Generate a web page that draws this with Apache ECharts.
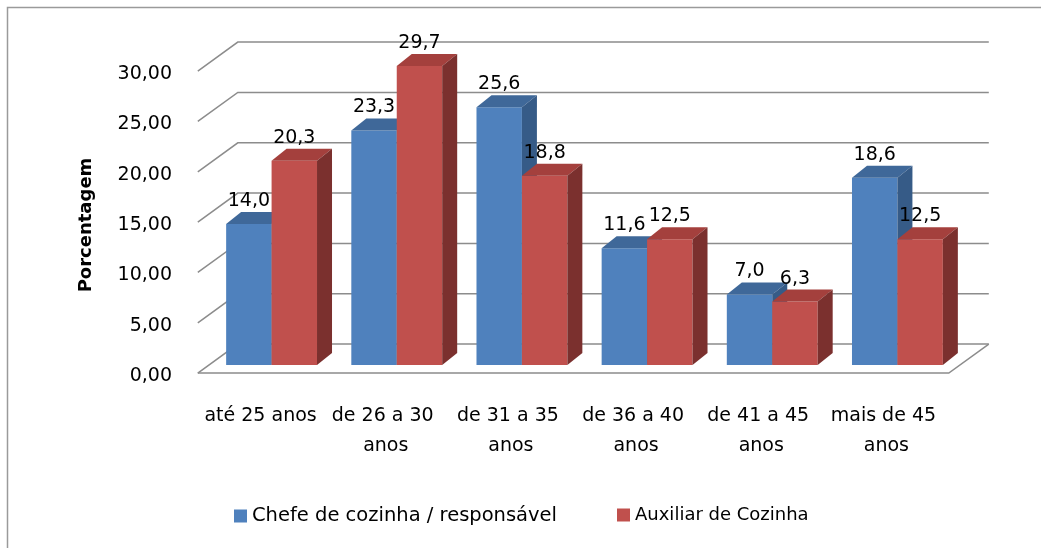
<!DOCTYPE html>
<html>
<head>
<meta charset="utf-8">
<script src="https://cdn.jsdelivr.net/npm/echarts@6/dist/echarts.min.js"></script>
<style>
  html, body { margin: 0; padding: 0; background: #fff; }
  #chart { width: 1041px; height: 548px; }
</style>
</head>
<body>
<div id="chart"></div>
<script>
const categories = [
  "até 25 anos",
  "de 26 a 30 anos",
  "de 31 a 35 anos",
  "de 36 a 40 anos",
  "de 41 a 45 anos",
  "mais de 45 anos"
];
const chefe = [14.0, 23.3, 25.6, 11.6, 7.0, 18.6];
const auxiliar = [20.3, 29.7, 18.8, 12.5, 6.3, 12.5];
const yTicks = [0, 5, 10, 15, 20, 25, 30];

const FONT = "DejaVu Sans";
// 3d look: floor depth vector and position of the bar plane inside it
const DEPTH = [40, -29];
const PLANE = 0.28;
const BAR_DEPTH = [15, -12];
const BAR_FRAC = 0.363;

const colors = {
  chefe: { front: "#4f81bd", top: "#3f6899", side: "#365b87" },
  auxiliar: { front: "#c0504d", top: "#a4403d", side: "#7b302e" }
};

function fmt(v, d) {
  return v.toFixed(d).replace(".", ",");
}

function renderWall(params, api) {
  const cs = params.coordSys;
  const v = api.value(1);
  const y = api.coord([0, v])[1];
  const back = [DEPTH[0] * (1 - PLANE), DEPTH[1] * (1 - PLANE)];
  const front = [-DEPTH[0] * PLANE, -DEPTH[1] * PLANE];
  const left = cs.x;
  const right = cs.x + cs.width;
  const lineStyle = { stroke: "#8c8c8c", lineWidth: 1.5, fill: null };
  const children = [
    {
      type: "polyline",
      shape: {
        points: [
          [left + front[0], y + front[1]],
          [left + back[0], y + back[1]],
          [right + back[0], y + back[1]]
        ]
      },
      style: lineStyle
    }
  ];
  if (v === 0) {
    children.push({
      type: "polyline",
      shape: {
        points: [
          [left + front[0], y + front[1]],
          [right + front[0], y + front[1]],
          [right + back[0], y + back[1]]
        ]
      },
      style: lineStyle
    });
  }
  return { type: "group", children: children };
}

function renderBar(side, c) {
  return function (params, api) {
    const cat = api.value(0);
    const val = api.value(1);
    const base = api.coord([cat, 0]);
    const top = api.coord([cat, val]);
    const bw = api.size([1, 0])[0] * BAR_FRAC;
    const x0 = side === 0 ? base[0] - bw : base[0];
    const x1 = x0 + bw;
    const yb = base[1];
    const yt = top[1];
    const dx = BAR_DEPTH[0];
    const dy = BAR_DEPTH[1];
    return {
      type: "group",
      children: [
        {
          type: "polygon",
          shape: { points: [[x0, yb], [x1, yb], [x1, yt], [x0, yt]] },
          style: { fill: c.front }
        },
        {
          type: "polygon",
          shape: { points: [[x0, yt], [x1, yt], [x1 + dx, yt + dy], [x0 + dx, yt + dy]] },
          style: { fill: c.top }
        },
        {
          type: "polygon",
          shape: { points: [[x1, yt], [x1 + dx, yt + dy], [x1 + dx, yb + dy], [x1, yb]] },
          style: { fill: c.side }
        },
        {
          type: "text",
          style: {
            text: fmt(val, 1),
            x: (x0 + x1) / 2,
            y: yt - 23,
            align: "center",
            verticalAlign: "middle",
            font: "19px '" + FONT + "'",
            fill: "#000"
          },
          z2: 10
        }
      ]
    };
  };
}

const chart = echarts.init(document.getElementById("chart"));

const option = {
  backgroundColor: "#fff",
  animation: false,
  textStyle: { fontFamily: FONT, color: "#000" },
  graphic: [
    {
      type: "rect",
      shape: { x: 7.5, y: 7.5, width: 1100, height: 600 },
      style: { fill: null, stroke: "#9a9a9a", lineWidth: 1.5 },
      silent: true
    }
  ],
  legend: [
    {
      left: 234,
      top: 506,
      padding: 0,
      itemWidth: 13,
      itemHeight: 13,
      icon: "rect",
      data: ["Chefe de cozinha / responsável"],
      textStyle: { fontSize: 19.5, color: "#000", fontFamily: FONT }
    },
    {
      left: 617,
      top: 506,
      padding: 0,
      itemWidth: 13,
      itemHeight: 13,
      icon: "rect",
      data: ["Auxiliar de Cozinha"],
      textStyle: { fontSize: 18, color: "#000", fontFamily: FONT }
    }
  ],
  grid: { left: 209, right: 81, top: 63, bottom: 183 },
  xAxis: {
    type: "category",
    data: categories,
    axisLine: { show: false },
    axisTick: { show: false },
    splitLine: { show: false },
    axisLabel: {
      interval: 0,
      margin: 36,
      fontSize: 19,
      lineHeight: 30,
      color: "#000",
      width: 122,
      overflow: "break",
      padding: [0, 22, 0, 0]
    }
  },
  yAxis: {
    type: "value",
    min: 0,
    max: 30,
    interval: 5,
    name: "Porcentagem",
    nameLocation: "middle",
    nameRotate: 90,
    nameGap: 114,
    nameTextStyle: {
      fontSize: 18,
      fontWeight: "bold",
      color: "#000",
      fontFamily: FONT,
      padding: [0, 22, 0, 0]
    },
    axisLine: { show: false },
    axisTick: { show: false },
    splitLine: { show: false },
    axisLabel: {
      margin: 37,
      fontSize: 19,
      color: "#000",
      verticalAlign: "top",
      lineHeight: 22,
      formatter: function (v) { return fmt(v, 2); }
    }
  },
  series: [
    {
      type: "custom",
      name: "wall",
      silent: true,
      renderItem: renderWall,
      data: yTicks.map(function (v) { return [0, v]; }),
      encode: { x: 0, y: 1 },
      z: 1
    },
    {
      type: "custom",
      name: "Chefe de cozinha / responsável",
      itemStyle: { color: colors.chefe.front },
      renderItem: renderBar(0, colors.chefe),
      data: chefe.map(function (v, i) { return [i, v]; }),
      encode: { x: 0, y: 1 },
      z: 2
    },
    {
      type: "custom",
      name: "Auxiliar de Cozinha",
      itemStyle: { color: colors.auxiliar.front },
      renderItem: renderBar(1, colors.auxiliar),
      data: auxiliar.map(function (v, i) { return [i, v]; }),
      encode: { x: 0, y: 1 },
      z: 3
    }
  ]
};

chart.setOption(option);
</script>
</body>
</html>
